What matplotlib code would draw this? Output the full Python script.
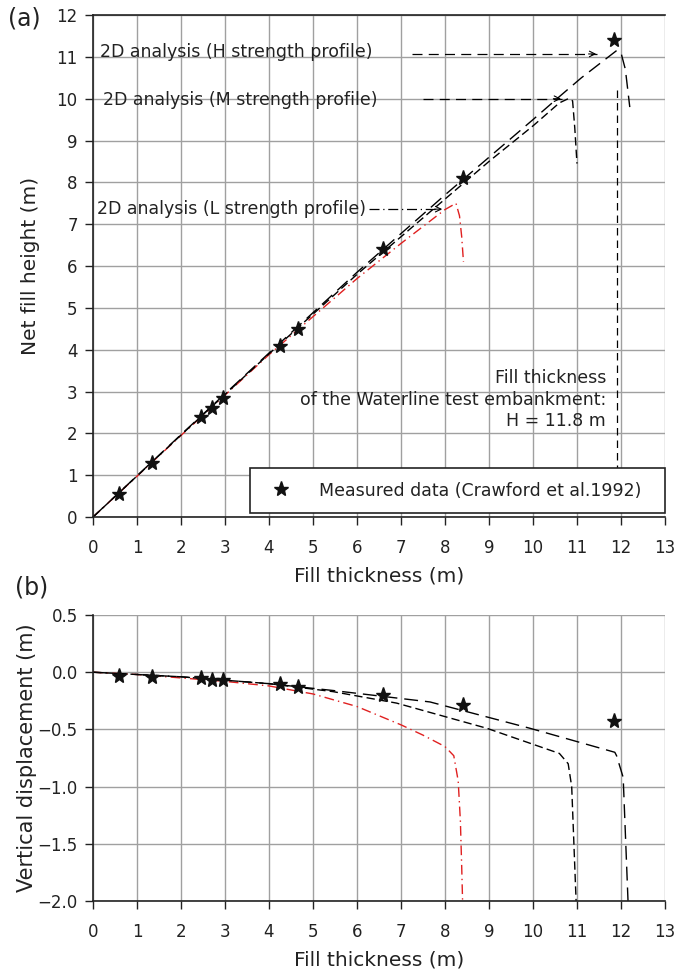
import matplotlib
matplotlib.use('Agg')
import matplotlib.pyplot as plt

plt.rcParams['font.family'] = ['DejaVu Sans']

# measured data (Crawford et al. 1992)
meas_thick = [0.6, 1.35, 2.45, 2.7, 2.95, 4.25, 4.65, 6.6, 8.4, 11.85]
meas_height = [0.55, 1.3, 2.4, 2.6, 2.85, 4.1, 4.5, 6.4, 8.1, 11.4]
meas_disp = [-0.03, -0.04, -0.05, -0.07, -0.07, -0.1, -0.13, -0.2, -0.29, -0.43]

# 2D analysis, net fill height (panel a)
L_thick_a = [0, 2, 4, 6, 7, 8, 8.25, 8.33, 8.38, 8.42]
L_height_a = [0, 1.95, 3.88, 5.7, 6.54, 7.35, 7.5, 7.2, 6.7, 6.1]
M_thick_a = [0, 2, 4, 6, 8, 9, 10, 10.6, 10.8, 10.9, 10.95, 11.0]
M_height_a = [0, 1.96, 3.9, 5.8, 7.6, 8.5, 9.35, 9.9, 10.0, 9.95, 9.3, 8.45]
H_thick_a = [0, 2, 4, 6, 8, 10, 10.6, 11.1, 11.9, 12.0, 12.1, 12.2]
H_height_a = [0, 1.97, 3.92, 5.85, 7.7, 9.5, 10.05, 10.5, 11.15, 11.1, 10.7, 9.8]

# 2D analysis, vertical displacement (panel b)
L_thick_b = [0, 1, 2, 3, 4, 5, 6, 7, 7.5, 8.0, 8.2, 8.3, 8.35, 8.38, 8.4]
L_disp_b = [0, -0.02, -0.05, -0.08, -0.12, -0.19, -0.3, -0.46, -0.55, -0.65,
            -0.73, -0.95, -1.3, -1.7, -2.0]
M_thick_b = [0, 1, 2, 3, 4, 5.46, 6.9, 8.95, 10.6, 10.8, 10.88, 10.98]
M_disp_b = [0, -0.02, -0.04, -0.07, -0.1, -0.17, -0.27, -0.49, -0.71, -0.8, -1.0, -2.0]
H_thick_b = [0, 1, 2, 3, 4, 5.46, 7.66, 9.93, 11.86, 11.9, 12.05, 12.16]
H_disp_b = [0, -0.02, -0.04, -0.07, -0.1, -0.16, -0.26, -0.49, -0.7, -0.73, -0.92, -2.0]

H_DASH = (0, (10, 5))
M_DASH = (0, (6, 3))
L_DASH = (0, (7, 3, 1, 3))
GRID = '#a0a0a0'
TXT = '#222222'
FS = 12.5      # in-plot text
FS_TICK = 12
FS_LABEL = 14.5

fig = plt.figure(figsize=(6.95, 9.77), dpi=100)
ax1 = fig.add_axes([0.1338, 0.4708, 0.823, 0.5138])
ax2 = fig.add_axes([0.1338, 0.0778, 0.823, 0.2927])


def style_axis(ax):
    ax.grid(True, color=GRID, lw=1.0)
    ax.set_axisbelow(True)
    ax.spines['right'].set_visible(False)
    for s in ('left', 'bottom', 'top'):
        ax.spines[s].set_color(TXT)
        ax.spines[s].set_linewidth(1.2)
    ax.tick_params(direction='out', length=6, width=1.0, labelsize=FS_TICK,
                   color=TXT, labelcolor=TXT)
    ax.tick_params(axis='x', pad=10)
    ax.tick_params(axis='y', pad=5)
    ax.set_xlim(0, 13)
    ax.set_xticks(range(0, 14))


# ── panel (a) ─────────────────────────────────────────────────────────────
style_axis(ax1)
ax1.set_ylim(0, 12)
ax1.set_yticks(range(0, 13))
ax1.plot(L_thick_a, L_height_a, color='#e02020', lw=1.0, ls=L_DASH)
ax1.plot(M_thick_a, M_height_a, color='black', lw=1.0, ls=M_DASH)
ax1.plot(H_thick_a, H_height_a, color='black', lw=1.0, ls=H_DASH)
ax1.plot(meas_thick, meas_height, ls='none', marker='*', ms=11,
         color='#111111', zorder=5, label='Measured data (Crawford et al.1992)')

ax1.text(0.16, 11.12, '2D analysis (H strength profile)', fontsize=FS,
         va='center', color=TXT)
ax1.plot([7.25, 11.45], [11.07, 11.07], color='black', lw=0.9, ls=(0, (8, 5)))
ax1.annotate('', xy=(11.5, 11.07), xytext=(11.2, 11.07),
             arrowprops=dict(arrowstyle='->', lw=0.8, color='black'))
ax1.text(0.23, 9.96, '2D analysis (M strength profile)', fontsize=FS,
         va='center', color=TXT)
ax1.plot([7.5, 10.65], [10.0, 10.0], color='black', lw=0.9, ls=(0, (8, 5)))
ax1.annotate('', xy=(10.7, 10.0), xytext=(10.4, 10.0),
             arrowprops=dict(arrowstyle='->', lw=0.8, color='black'))
ax1.text(0.09, 7.36, '2D analysis (L strength profile)', fontsize=FS,
         va='center', color=TXT)
ax1.plot([6.27, 7.95], [7.36, 7.36], color='black', lw=0.9, ls=(0, (8, 3, 1, 3)))
ax1.annotate('', xy=(8.0, 7.36), xytext=(7.7, 7.36),
             arrowprops=dict(arrowstyle='->', lw=0.8, color='black'))

ax1.plot([11.9, 11.9], [10.2, 1.1], color='black', lw=0.9, ls=(0, (6, 4)))
ax1.text(11.66, 2.8, 'Fill thickness\nof the Waterline test embankment:\nH = 11.8 m',
         fontsize=FS, ha='right', va='center', multialignment='right',
         linespacing=1.25, color=TXT)

leg = ax1.legend(loc='center', bbox_to_anchor=(0.2745, 0.0, 0.7255, 0.1056),
                 mode='expand', borderaxespad=0, fancybox=False,
                 edgecolor=TXT, framealpha=1, fontsize=FS,
                 handlelength=2.0, handletextpad=1.2, borderpad=0.8)
leg.get_frame().set_linewidth(1.2)
for t in leg.get_texts():
    t.set_color(TXT)

ax1.set_xlabel('Fill thickness (m)', fontsize=FS_LABEL, labelpad=7, color=TXT)
ax1.set_ylabel('Net fill height (m)', fontsize=FS_LABEL, labelpad=12, color=TXT)

# ── panel (b) ─────────────────────────────────────────────────────────────
style_axis(ax2)
ax2.spines['top'].set_visible(False)
ax2.set_ylim(-2.0, 0.5)
ax2.set_yticks([0.5, 0.0, -0.5, -1.0, -1.5, -2.0])
ax2.set_yticklabels(['0.5', '0.0', '\u22120.5', '\u22121.0', '\u22121.5', '\u22122.0'])
ax2.plot(L_thick_b, L_disp_b, color='#e02020', lw=1.0, ls=L_DASH)
ax2.plot(M_thick_b, M_disp_b, color='black', lw=1.0, ls=M_DASH)
ax2.plot(H_thick_b, H_disp_b, color='black', lw=1.0, ls=H_DASH)
ax2.plot(meas_thick, meas_disp, ls='none', marker='*', ms=11,
         color='#111111', zorder=5)
ax2.set_xlabel('Fill thickness (m)', fontsize=FS_LABEL, labelpad=7, color=TXT)
ax2.set_ylabel('Vertical displacement (m)', fontsize=15, labelpad=0.5, color=TXT)

fig.text(0.011, 0.981, '(a)', fontsize=17, va='center', color=TXT)
fig.text(0.021, 0.399, '(b)', fontsize=17, va='center', color=TXT)

fig.savefig('out.png', dpi=100)
